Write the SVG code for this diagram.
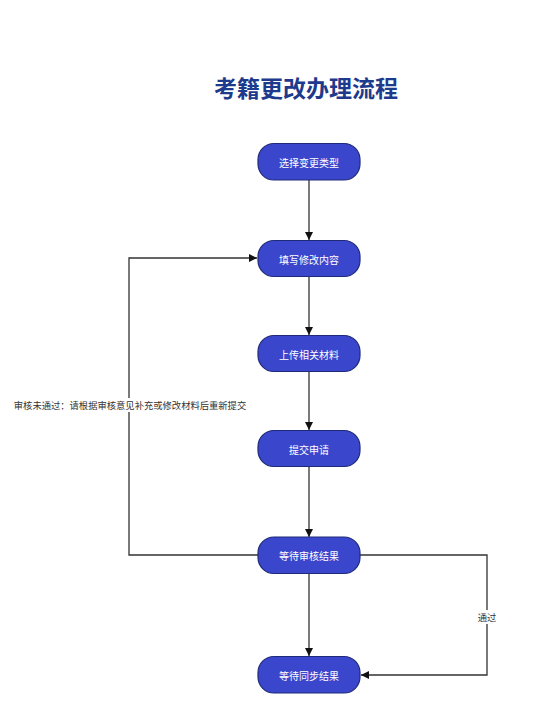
<svg xmlns="http://www.w3.org/2000/svg" width="547" height="702" viewBox="0 0 547 702">
<style>
.node rect{fill:#3a46cc;stroke:#1f2a78;stroke-width:1.2}
.node text{fill:#ffffff;font-family:"Noto Sans CJK SC","Noto Sans",sans-serif;font-size:10px;text-anchor:middle;dominant-baseline:central}
.edge{fill:none;stroke:#333333;stroke-width:1.3}
.lbl{fill:#333333;font-family:"Noto Sans CJK SC","Noto Sans",sans-serif;font-size:9.3px;text-anchor:middle;dominant-baseline:central}
.title{fill:#1d3a8c;font-family:"Noto Sans CJK SC","Noto Sans",sans-serif;font-size:23px;font-weight:bold;text-anchor:middle}
</style>
<defs>
<marker id="arr" viewBox="0 0 10 10" refX="10" refY="5" markerWidth="8" markerHeight="8" markerUnits="userSpaceOnUse" orient="auto">
<path d="M0,0 L10,5 L0,10 z" fill="#111111"/>
</marker>
</defs>
<rect width="547" height="702" fill="#ffffff"/>
<text class="title" x="306" y="97">考籍更改办理流程</text>
<g id="connectors">
<path class="edge" d="M309,180 V240" marker-end="url(#arr)"/>
<path class="edge" d="M309,277 V335" marker-end="url(#arr)"/>
<path class="edge" d="M309,372 V430" marker-end="url(#arr)"/>
<path class="edge" d="M309,467 V537" marker-end="url(#arr)"/>
<path class="edge" d="M309,574 V656" marker-end="url(#arr)"/>
<path class="edge" d="M258,555 H129 V258 H257" marker-end="url(#arr)"/>
<path class="edge" d="M360,555 H487 V675 H361" marker-end="url(#arr)"/>
<rect x="12" y="398" width="236" height="14" fill="#ffffff"/>
<text class="lbl" x="130" y="405">审核未通过：请根据审核意见补充或修改材料后重新提交</text>
<rect x="476" y="610" width="22" height="14" fill="#ffffff"/>
<text class="lbl" x="487" y="617">通过</text>
</g>
<g id="n1" class="node"><rect x="258" y="143.5" width="102" height="36.5" rx="16"/><text x="309" y="162">选择变更类型</text></g>
<g id="n2" class="node"><rect x="258" y="240.5" width="102" height="36" rx="16"/><text x="309" y="259">填写修改内容</text></g>
<g id="n3" class="node"><rect x="258" y="335.5" width="102" height="36" rx="16"/><text x="309" y="354">上传相关材料</text></g>
<g id="n4" class="node"><rect x="258" y="430.5" width="102" height="36" rx="16"/><text x="309" y="449">提交申请</text></g>
<g id="n5" class="node"><rect x="258" y="537" width="102" height="36.5" rx="16"/><text x="309" y="555.5">等待审核结果</text></g>
<g id="n6" class="node"><rect x="258" y="656.5" width="102" height="36.5" rx="16"/><text x="309" y="675">等待同步结果</text></g>
</svg>
